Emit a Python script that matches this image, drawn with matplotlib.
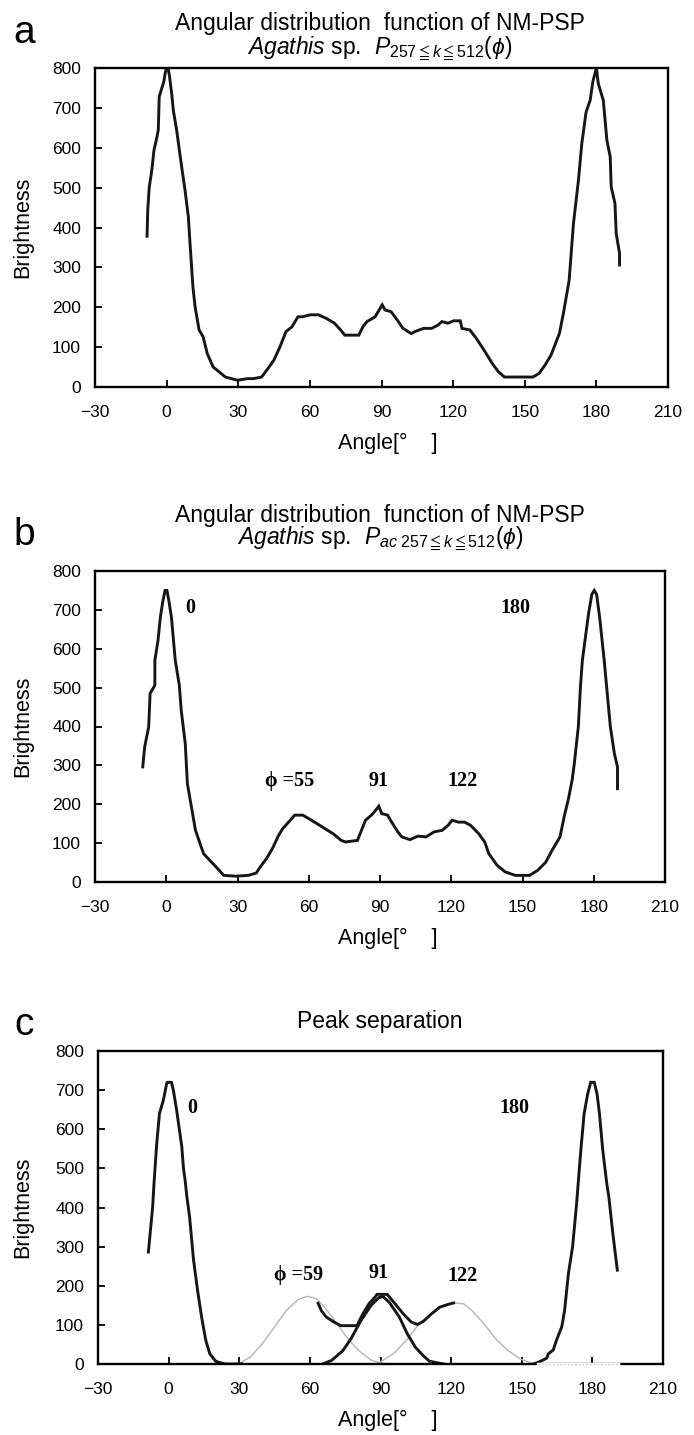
import numpy as np
import matplotlib
matplotlib.use('Agg')
import matplotlib.pyplot as plt

plt.rcParams['font.family'] = 'Liberation Sans'
plt.rcParams['mathtext.fontset'] = 'custom'
plt.rcParams['mathtext.rm'] = 'Liberation Sans'
plt.rcParams['mathtext.it'] = 'Liberation Sans:italic'
plt.rcParams['mathtext.fallback'] = 'stixsans'

# (angle, brightness)
a_pts = [(-8.2, 378), (-7.9, 444), (-7.3, 500), (-6.2, 544), (-5.3, 594), (-4.3, 620),
         (-3.5, 644), (-3.1, 728), (-2.0, 750), (-1.2, 765), (-0.5, 790), (0.0, 800),
         (0.6, 800), (1.2, 780), (1.6, 760), (2.1, 737), (2.8, 694), (4.2, 644),
         (6.3, 552), (7.7, 494), (9.1, 427), (9.8, 360), (11.0, 252), (11.9, 202),
         (13.6, 143), (15.3, 126), (17.0, 84), (19.5, 50), (22.0, 38), (24.6, 25),
         (29.7, 17), (33.9, 21), (36.4, 21), (39.8, 25), (42.4, 46), (44.9, 67),
         (47.5, 101), (50.0, 139), (52.5, 151), (55.0, 176), (56.8, 176), (60.2, 181),
         (63.6, 181), (66.9, 172), (70.3, 160), (72.9, 143), (74.6, 130), (80.5, 130),
         (82.2, 151), (83.9, 164), (87.3, 176), (89.0, 193), (90.3, 206), (91.5, 193),
         (94.0, 189), (96.6, 168), (99.0, 147), (102.5, 134), (104.0, 139), (107.6, 147),
         (111.0, 147), (113.6, 155), (115.3, 164), (117.8, 160), (120.3, 166), (123.0, 166),
         (123.7, 147), (127.0, 143), (129.7, 122), (133.0, 92), (136.4, 59), (139.0, 38),
         (141.5, 25), (153.4, 25), (156.0, 34), (158.5, 55), (161.0, 80), (164.5, 134),
         (166.2, 185), (168.6, 268), (170.4, 410), (172.5, 519), (173.9, 611), (175.7, 690),
         (177.4, 719), (178.5, 765), (180.0, 800), (180.8, 761), (182.9, 719), (184.4, 619),
         (185.8, 577), (186.2, 502), (187.8, 460), (188.3, 385), (189.7, 335), (189.7, 306)]

b_pts = [(-9.9, 296), (-9.1, 347), (-7.4, 399), (-6.8, 485), (-4.8, 506), (-4.8, 570),
         (-3.5, 620), (-2.5, 680), (-1.5, 720), (-0.5, 750), (0.3, 750), (1.2, 720),
         (2.2, 680), (3.8, 570), (5.5, 506), (6.3, 442), (8.0, 356), (8.9, 253),
         (10.6, 193), (12.3, 133), (14.0, 103), (15.7, 73), (18.3, 56), (21.7, 34),
         (24.2, 17), (29.4, 15), (34.5, 17), (37.9, 23), (39.6, 39), (42.2, 60),
         (44.7, 86), (47.3, 120), (49.0, 137), (51.5, 154), (54.1, 172), (57.5, 172),
         (60.0, 163), (63.5, 150), (66.9, 137), (70.3, 124), (73.7, 107), (75.4, 103),
         (80.5, 107), (82.2, 133), (83.9, 159), (86.4, 172), (88.1, 184), (89.5, 195),
         (90.7, 176), (93.2, 172), (94.9, 154), (97.5, 129), (99.2, 116), (102.6, 109),
         (106.0, 118), (109.4, 116), (112.8, 129), (116.2, 133), (118.7, 146), (120.4, 159),
         (123.0, 154), (125.6, 154), (128.1, 146), (131.6, 124), (134.1, 103), (135.8, 73),
         (139.3, 43), (142.7, 26), (147.0, 17), (153.0, 17), (156.4, 30), (159.8, 51),
         (162.4, 81), (165.8, 116), (167.5, 167), (169.2, 210), (170.9, 262), (171.8, 304),
         (173.5, 399), (174.4, 502), (175.2, 570), (176.5, 630), (177.8, 690), (179.2, 740),
         (180.2, 750), (181.2, 740), (182.5, 680), (184.4, 570), (185.3, 510), (187.0, 399),
         (188.7, 330), (190.0, 296), (190.0, 240)]

c_left_pts = [(-8.6, 286), (-6.8, 400), (-6.2, 462), (-5.1, 560), (-3.9, 640), (-2.2, 675),
              (-0.8, 718), (-0.5, 720), (1.2, 720), (2.0, 700), (3.4, 649), (5.6, 555),
              (6.3, 500), (7.0, 470), (7.7, 430), (8.9, 376), (10.6, 265), (12.3, 188),
              (14.0, 120), (15.8, 60), (17.5, 26), (20.0, 7), (22.6, 2), (24.3, 0), (31.0, 0)]
c_right_pts = [(155.0, 0), (156.4, 3), (158.7, 9), (160.6, 15), (161.3, 26), (163.4, 36),
               (164.7, 60), (167.0, 95), (168.2, 137), (169.8, 230), (171.6, 300), (173.3, 410),
               (174.2, 479), (175.1, 547), (176.5, 640), (178.0, 690), (179.3, 720), (180.8, 720),
               (182.0, 690), (183.0, 640), (184.4, 547), (186.1, 462), (187.0, 427), (188.7, 333),
               (190.6, 240)]
c_sum_pts = [(63.5, 155), (65.0, 135), (67.0, 120), (70.0, 108), (73.1, 98), (80.0, 98),
             (82.5, 128), (85.1, 154), (87.7, 171), (88.5, 178), (92.8, 178), (96.2, 154),
             (99.7, 128), (103.1, 107), (105.7, 101), (108.2, 109), (111.6, 128), (115.1, 145),
             (118.5, 152), (121.0, 156)]
c_g91_pts = [(65.4, 0), (69.2, 9), (74.0, 34), (77.4, 64), (81.7, 111), (86.0, 150),
             (89.4, 170), (91.1, 172), (93.7, 158), (98.0, 120), (101.4, 77), (104.8, 43),
             (108.2, 21), (110.8, 7), (116.8, 0)]
c_g59_pts = [(29.5, 0), (34.6, 17), (39.7, 51), (44.9, 94), (50.0, 137), (55.1, 165),
             (58.9, 173), (62.8, 167), (66.3, 145), (70.5, 111), (75.7, 68), (80.8, 34),
             (86.0, 10), (89.4, 4), (92.0, 0)]
c_g122_pts = [(88.0, 0), (91.0, 9), (96.2, 30), (101.4, 64), (106.5, 103), (111.6, 128),
              (116.8, 150), (121.0, 156), (125.3, 154), (128.8, 137), (133.9, 103), (139.0, 64),
              (144.2, 34), (149.3, 13), (154.5, 2), (157.0, 0)]

b_labels = [(10, 705, '0'), (147, 705, '180'), (51.8, 259, 'ϕ =55'), (89.5, 259, '91'), (124.7, 259, '122')]
c_labels = [(10, 655, '0'), (147, 655, '180'), (55, 228, 'ϕ =59'), (89, 232, '91'), (125, 225, '122')]

W, H = 694, 1435
fig = plt.figure(figsize=(W / 100, H / 100), dpi=100)


def make_axes(left, top, right, bottom):
    ax = fig.add_axes([left / W, 1 - bottom / H, (right - left) / W, (bottom - top) / H])
    ax.set_xlim(-30, 210)
    ax.set_ylim(0, 800)
    ax.set_xticks(np.arange(-30, 211, 30))
    ax.set_yticks(np.arange(0, 801, 100))
    ax.tick_params(direction='in', length=5, width=1.3, labelsize=12.5, top=False, right=False)
    ax.tick_params(axis='x', pad=13)
    ax.tick_params(axis='y', pad=10)
    for s in ax.spines.values():
        s.set_linewidth(1.7)
    return ax


def side_labels(ax_top, ax_bottom, xlabel_y):
    yc = (ax_top + ax_bottom) / 2
    fig.text(23 / W, 1 - yc / H, 'Brightness', rotation=90, ha='center', va='center', fontsize=15.5)
    fig.text(388 / W, 1 - xlabel_y / H, 'Angle[°    ]', ha='center', va='center', fontsize=15.5)


def draw(ax, pts, color='#161616', lw=2.1, **kw):
    x, y = np.array(pts).T
    ax.plot(x, y, color=color, lw=lw, solid_joinstyle='miter', **kw)


def annotate(ax, labels):
    for x, y, t in labels:
        ax.text(x, y, t, ha='center', va='center', fontsize=14.5, fontweight='bold',
                family=['Liberation Serif', 'DejaVu Serif'])


# panel a
ax_a = make_axes(95, 68, 668, 387)
draw(ax_a, a_pts)
side_labels(68, 387, 443)
fig.text(24 / W, 1 - 43 / H, 'a', ha='center', va='baseline', fontsize=28)
fig.text(380 / W, 1 - 30 / H, 'Angular distribution  function of NM-PSP', ha='center', va='baseline', fontsize=16.5)
fig.text(380 / W, 1 - 54 / H, r'$\mathit{Agathis}$ sp.  $P_{257\leqq k\leqq 512}(\phi)$',
         ha='center', va='baseline', fontsize=16.5)

# panel b
ax_b = make_axes(95, 571, 665, 882)
draw(ax_b, b_pts)
annotate(ax_b, b_labels)
side_labels(571, 882, 938)
fig.text(24 / W, 1 - 545 / H, 'b', ha='center', va='baseline', fontsize=28)
fig.text(380 / W, 1 - 522 / H, 'Angular distribution  function of NM-PSP', ha='center', va='baseline', fontsize=16.5)
fig.text(380 / W, 1 - 544 / H, r'$\mathit{Agathis}$ sp.  $P_{ac\ 257\leqq k\leqq 512}(\phi)$',
         ha='center', va='baseline', fontsize=16.5)

# panel c
ax_c = make_axes(98, 1051, 663, 1364)
draw(ax_c, c_g59_pts, color='#b5b5b5', lw=1.0)
draw(ax_c, c_g122_pts, color='#b5b5b5', lw=1.0)
draw(ax_c, c_left_pts)
draw(ax_c, c_right_pts)
draw(ax_c, c_g91_pts)
draw(ax_c, c_sum_pts)
ax_c.plot([157, 191], [0, 0], color='white', lw=2.5, zorder=3, clip_on=False)
ax_c.plot([157, 191], [0, 0], color='#c0c0c0', lw=1.0, ls=':', zorder=3.1, clip_on=False)
annotate(ax_c, c_labels)
side_labels(1051, 1364, 1420)
fig.text(24 / W, 1 - 1035 / H, 'c', ha='center', va='baseline', fontsize=28)
fig.text(380 / W, 1 - 1028 / H, 'Peak separation', ha='center', va='baseline', fontsize=16.5)

fig.savefig('out.png', dpi=100)
